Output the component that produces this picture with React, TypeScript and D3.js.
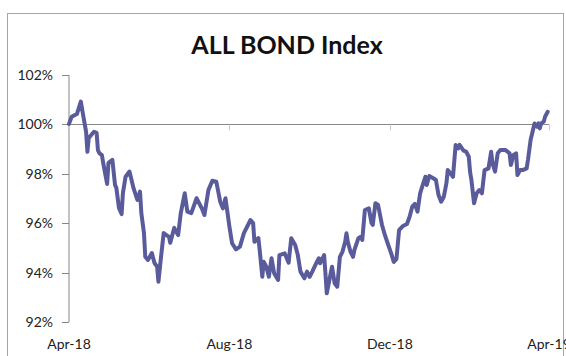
import React from "react";
import * as d3 from "d3";

const title = "ALL BOND Index";
const startDate = new Date(2018, 3, 1);
const endDate = new Date(2019, 3, 1);
const xTickDates = [new Date(2018, 3, 1), new Date(2018, 7, 1), new Date(2018, 11, 1), new Date(2019, 3, 1)];
const yTicks = [92, 94, 96, 98, 100, 102];

// day offset from 1 Apr 2018
const dayOffsets = [
  0, 2, 6, 9, 11, 13, 14, 15, 19, 21, 22, 23, 25, 26, 29, 30, 33, 35, 36, 38,
  40, 41, 43, 46, 49, 52, 54, 55, 57, 58, 60, 63, 65, 67, 68, 70, 72, 76, 77, 80,
  83, 85, 88, 90, 93, 97, 101, 103, 106, 109, 112, 115, 117, 119, 122, 124, 127, 130, 133, 138,
  140, 141, 144, 145, 147, 148, 150, 152, 154, 156, 159, 160, 164, 167, 169, 172, 174, 176, 179, 181,
  183, 185, 188, 190, 191, 194, 195, 196, 198, 200, 202, 204, 206, 208, 210, 211, 212, 214, 216, 217,
  220, 222, 223, 225, 228, 230, 231, 233, 235, 238, 240, 243, 245, 247, 249, 251, 254, 257, 259, 261,
  263, 265, 267, 269, 271, 272, 274, 277, 279, 281, 283, 285, 287, 288, 290, 292, 294, 296, 297, 300,
  302, 304, 305, 306, 308, 310, 312, 314, 316, 319, 321, 322, 324, 326, 328, 332, 335, 336, 338, 340,
  341, 343, 345, 348, 349, 351, 354, 356, 357, 358, 359, 361, 362, 364,
];

const indexValues = [
  100.02, 100.31, 100.42, 100.92, 100.3, 99.7, 98.89, 99.45, 99.7, 99.66, 98.96, 98.84, 98.76, 98.44, 97.59, 98.44, 98.56, 97.55, 97.43, 96.62,
  96.37, 97.22, 97.88, 98.09, 97.43, 96.94, 97.28, 96.41, 95.6, 94.64, 94.51, 94.79, 94.39, 94.24, 93.63, 94.64, 95.6, 95.45, 95.21, 95.81,
  95.52, 96.41, 97.21, 96.47, 96.41, 97.01, 96.6, 96.33, 97.34, 97.72, 97.68, 96.87, 96.6, 97.01, 95.86, 95.19, 94.94, 95.05, 95.6, 96.13,
  96.01, 95.25, 95.4, 94.91, 93.83, 94.44, 94.24, 93.83, 94.58, 93.97, 93.7, 94.71, 94.78, 94.4, 95.39, 95.12, 94.71, 94.04, 93.77, 94.04,
  93.83, 94.04, 94.38, 94.58, 94.38, 94.71, 93.97, 93.16, 93.7, 94.24, 93.57, 93.43, 94.64, 94.85, 95.25, 95.59, 95.25, 94.85, 94.64, 94.91,
  95.39, 95.45, 95.32, 96.53, 96.6, 96.01, 95.93, 96.81, 96.74, 95.93, 95.56, 95.08, 94.78, 94.43, 94.55, 95.72, 95.89, 95.97, 96.26, 96.67,
  96.78, 96.47, 97.21, 97.55, 97.88, 97.55, 97.91, 97.82, 97.75, 97.14, 96.87, 97.07, 97.62, 98.15, 98.02, 97.88, 99.17, 99.03, 99.17, 98.94,
  98.9, 98.69, 98.07, 97.75, 96.81, 97.21, 97.34, 97.21, 98.15, 98.22, 98.89, 98.43, 98.09, 98.83, 98.96, 98.96, 98.83, 98.36, 98.76, 98.83,
  97.95, 98.15, 98.15, 98.22, 98.56, 99.37, 100.04, 99.91, 100.04, 99.84, 100.04, 100.11, 100.31, 100.51,
];

const W = 566;
const H = 356;
const margin = { left: 69, right: 17, top: 75, bottom: 34 };
const FONT = "Lato, 'Open Sans', sans-serif";

export default function App() {
  const data = dayOffsets.map((d, i) => ({ date: d3.timeDay.offset(startDate, d), value: indexValues[i] }));
  const x = d3.scaleTime().domain([startDate, endDate]).range([margin.left, W - margin.right]);
  const y = d3.scaleLinear().domain([92, 102]).range([H - margin.bottom, margin.top]);
  const line = d3
    .line<{ date: Date; value: number }>()
    .x((d) => x(d.date))
    .y((d) => y(d.value));
  const fmt = d3.timeFormat("%b-%y");
  const axisY = y(100);

  return (
    <svg width={W} height={H} style={{ position: "absolute", left: 0, top: 0, background: "#fff" }}>
      <rect x={7.5} y={13.5} width={556} height={360} fill="#fff" stroke="#a6a6a6" strokeWidth={1} />
      <text x={287} y={54} textAnchor="middle" fontFamily={FONT} fontWeight="bold" fontSize={25} fill="#111">
        {title}
      </text>
      {/* y axis */}
      <line x1={x(startDate)} x2={x(startDate)} y1={y(102)} y2={y(92)} stroke="#868686" strokeWidth={1} />
      {yTicks.map((t) => (
        <g key={t}>
          <line x1={x(startDate) - 7} x2={x(startDate)} y1={Math.round(y(t)) + 0.5} y2={Math.round(y(t)) + 0.5} stroke="#868686" />
          <text x={53} y={y(t) + 5} textAnchor="end" fontFamily={FONT} fontSize={14} fill="#222">
            {t}%
          </text>
        </g>
      ))}
      {/* x axis at 100% */}
      <line x1={x(startDate)} x2={x(endDate)} y1={Math.round(axisY) + 0.5} y2={Math.round(axisY) + 0.5} stroke="#868686" />
      {xTickDates.map((d, i) => (
        <g key={i}>
          <line x1={Math.round(x(d)) + 0.5} x2={Math.round(x(d)) + 0.5} y1={axisY} y2={axisY + 6} stroke="#c8c8c8" />
          <text x={x(d)} y={349} textAnchor="middle" fontFamily={FONT} fontSize={14} fill="#222">
            {fmt(d)}
          </text>
        </g>
      ))}
      <path d={line(data) || ""} fill="none" stroke="#5a5b9b" strokeWidth={4} strokeLinejoin="round" strokeLinecap="round" />
    </svg>
  );
}
